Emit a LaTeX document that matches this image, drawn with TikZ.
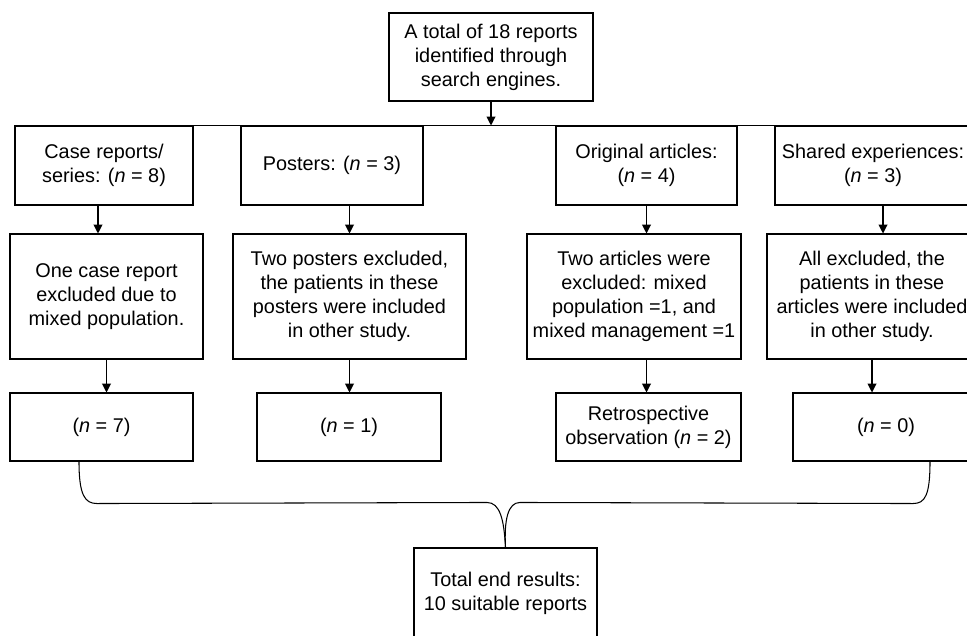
\documentclass[tikz,border=0pt]{standalone}
\usepackage{fontspec}
\setmainfont{Liberation Sans}
\usetikzlibrary{arrows.meta,calc}
\begin{document}
\begin{tikzpicture}[box/.style={draw,line width=0.6pt,align=center,inner sep=2pt,font=\fontsize{11.3}{13.7}\selectfont},
		>={Triangle[width=5pt,length=5pt]},line width=0.6pt]
		\useasboundingbox (0,0) rectangle (19.34,-12.7);
		\draw (9.82,-1.14) node[box,minimum width=4.08cm,minimum height=1.76cm] (top) {A total of 18 reports\\identified through\\search engines.};
		\draw (2.08,-3.31) node[box,minimum width=3.56cm,minimum height=1.58cm] (c1) {Case reports/\\series: (\textit{n} = 8)};
		\draw (6.64,-3.31) node[box,minimum width=3.64cm,minimum height=1.58cm] (p1) {Posters: (\textit{n} = 3)};
		\draw (12.93,-3.31) node[box,minimum width=3.62cm,minimum height=1.58cm] (o1) {Original articles:\\(\textit{n} = 4)};
		\draw (17.46,-3.31) node[box,minimum width=3.92cm,minimum height=1.58cm] (s1) {Shared experiences:\\(\textit{n} = 3)};
		\draw (2.13,-5.93) node[box,minimum width=3.86cm,minimum height=2.5cm] (c2) {One case report\\excluded due to\\mixed population.};
		\draw (6.99,-5.93) node[box,minimum width=4.66cm,minimum height=2.5cm] (p2) {Two posters excluded,\\the patients in these\\posters were included\\in other study.};
		\draw (12.68,-5.93) node[box,minimum width=4.28cm,minimum height=2.5cm] (o2) {Two articles were\\excluded: mixed\\population =1, and\\mixed management =1};
		\draw (17.44,-5.93) node[box,minimum width=4.2cm,minimum height=2.5cm] (s2) {All excluded, the\\patients in these\\articles were included\\in other study.};
		\draw (2.03,-8.54) node[box,minimum width=3.66cm,minimum height=1.36cm] (c3) {(\textit{n} = 7)};
		\draw (6.98,-8.54) node[box,minimum width=3.68cm,minimum height=1.36cm] (p3) {(\textit{n} = 1)};
		\draw (12.97,-8.54) node[box,minimum width=3.7cm,minimum height=1.36cm] (o3) {Retrospective\\observation (\textit{n} = 2)};
		\draw (17.72,-8.54) node[box,minimum width=3.72cm,minimum height=1.36cm] (s3) {(\textit{n} = 0)};
		\draw (10.11,-11.86) node[box,minimum width=3.66cm,minimum height=1.8cm] (tot) {Total end results:\\10 suitable reports};
		\draw (c1.north east) -- (s1.north east);
		\draw[->] (top.south) -- (top.south |- c1.north);
		\draw[->] ([xshift=-0.12cm]c1.south) -- ([xshift=-0.12cm]c1.south |- c2.north);
		\draw[->] (c2.south) -- (c2.south |- c3.north);
		\draw[->] (p2.north |- p1.south) -- (p2.north);
		\draw[->] (p2.south) -- (p2.south |- p3.north);
		\draw[->] (o1.south) -- (o1.south |- o2.north);
		\draw[->] (o2.south -| o1.south) -- (o3.north -| o1.south);
		\draw[->] ([xshift=0.2cm]s1.south) -- ([xshift=0.2cm]s1.south |- s2.north);
		\draw[->] (s2.south) -- (s2.south |- s3.north);
		\coordinate (cb) at ([xshift=-0.45cm]c3.south);
		\coordinate (sb) at ([xshift=0.88cm]s3.south);
		\draw (cb) .. controls ($(cb)+(0,-0.68)$) and ($(cb)+(0.12,-0.84)$) .. ($(cb)+(0.36,-0.84)$)
			-- ($(tot.north)+(-0.37,0.9)$) .. controls ($(tot.north)+(-0.11,0.9)$) and ($(tot.north)+(-0.03,0.56)$) .. (tot.north);
		\draw (sb) .. controls ($(sb)+(0,-0.68)$) and ($(sb)+(-0.1,-0.84)$) .. ($(sb)+(-0.34,-0.84)$)
			-- ($(tot.north)+(0.29,0.9)$) .. controls ($(tot.north)+(0.05,0.9)$) and ($(tot.north)+(-0.03,0.56)$) .. (tot.north);
	\end{tikzpicture}
\end{document}
